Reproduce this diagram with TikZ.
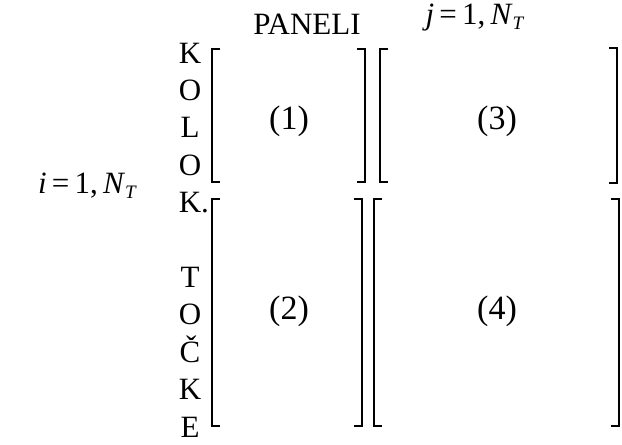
\documentclass[tikz,border=0pt]{standalone}
\usepackage{fontspec}
\setmainfont{Liberation Serif}
\begin{document}
\begin{tikzpicture}[x=1pt,y=-1pt,
  txt/.style={font=\fontsize{31}{37}\selectfont, inner sep=0pt},
  big/.style={font=\fontsize{34}{40}\selectfont, inner sep=0pt},
  letter/.style={txt, anchor=base},
  brk/.style={line width=1.5pt, line cap=butt, line join=miter}]
\useasboundingbox (0,0) rectangle (622,445);
% column of letters
\node[letter] (l1) at (190,63) {K};
\node[letter] (l2) at (190,100.4) {O};
\node[letter] (l3) at (190,137.8) {L};
\node[letter] (l4) at (190,175.2) {O};
\node[letter] (l5) at (190,212.6) {K\rlap{.}};
\node[letter] (l7) at (190,287.4) {T};
\node[letter] (l8) at (190,324.8) {O};
\node[letter] (l9) at (190,362.2) {Č};
\node[letter] (l10) at (190,399.6) {K};
\node[letter] (l11) at (190,437) {E};
% headers
\node[txt] (pan) at (307,24) {PANELI};
\node[txt] (jlab) at (475,18) {\textit{j}\,=\,1,\,\textit{N}\raisebox{-0.35ex}{\fontsize{19}{20}\selectfont\textit{T}}};
\node[txt, anchor=west] (ilab) at (38,186) {\textit{i}\,=\,1,\,\textit{N}\raisebox{-0.35ex}{\fontsize{19}{20}\selectfont\textit{T}}};
% blocks
\node[big] (b1) at (289,121) {(1)};
\node[big] (b3) at (497,121) {(3)};
\node[big] (b2) at (289,311) {(2)};
\node[big] (b4) at (497,311) {(4)};
% brackets
\draw[brk] (220,49) -- (212,49) -- (212,182) -- (220,182);
\draw[brk] (357,49) -- (365,49) -- (365,182) -- (357,182);
\draw[brk] (388,49) -- (380,49) -- (380,182) -- (388,182);
\draw[brk] (609,48) -- (617,48) -- (617,183) -- (609,183);
\draw[brk] (220,199) -- (212,199) -- (212,426) -- (220,426);
\draw[brk] (354,199) -- (362,199) -- (362,426) -- (354,426);
\draw[brk] (382,199) -- (374,199) -- (374,426) -- (382,426);
\draw[brk] (611,199) -- (619,199) -- (619,426) -- (611,426);
\end{tikzpicture}
\end{document}
